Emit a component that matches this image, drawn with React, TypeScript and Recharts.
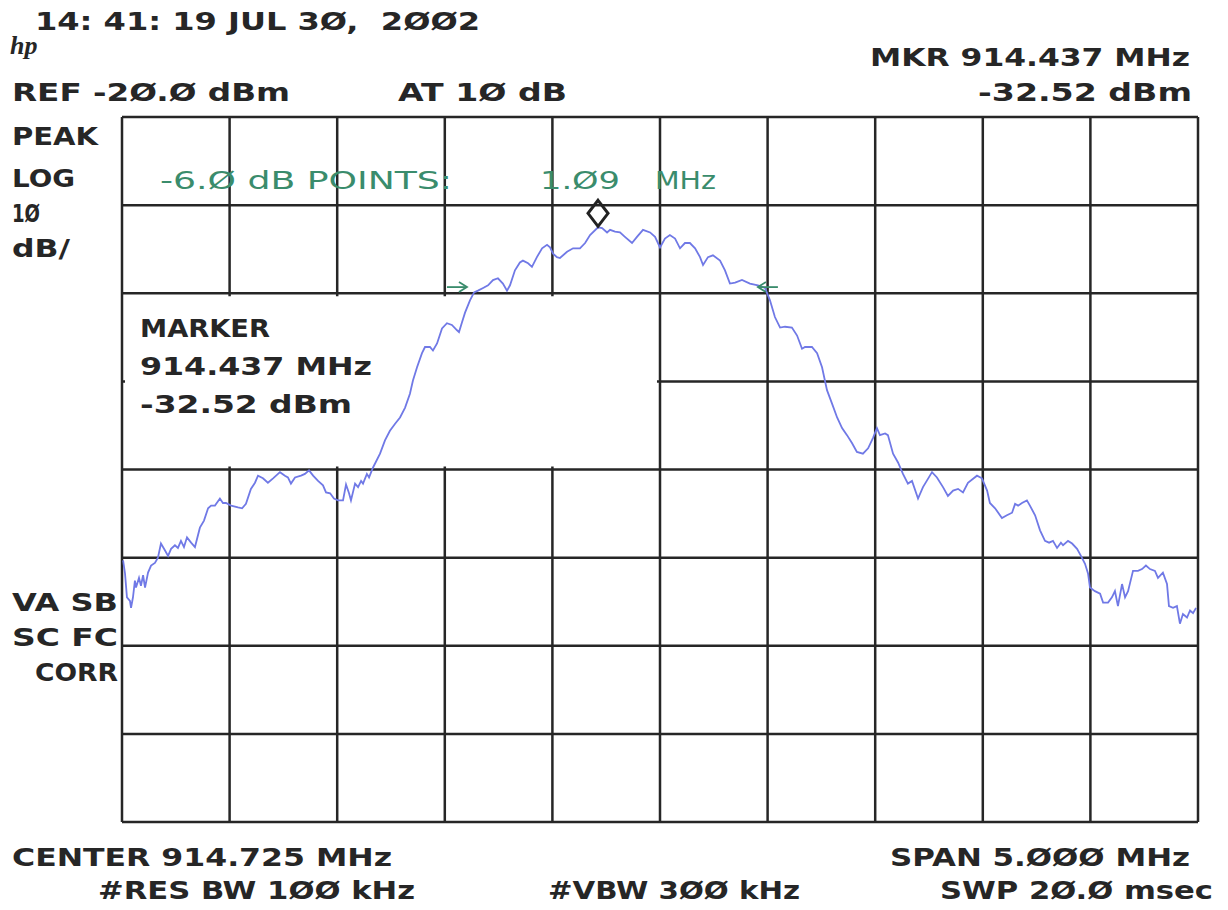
import React from 'react';
import { LineChart, Line, XAxis, YAxis, CartesianGrid, ReferenceArea, ReferenceDot } from 'recharts';

// sweep: 912.225 .. 917.225 MHz (center 914.725, span 5 MHz)
const freqTicks = [912.225, 912.725, 913.225, 913.725, 914.225, 914.725, 915.225, 915.725, 916.225, 916.725, 917.225];
// REF -20 dBm, 10 dB/div, 8 div
const levelTicks = [-100, -90, -80, -70, -60, -50, -40, -30, -20];

const traceFreq = [
  912.230, 912.239, 912.248, 912.262, 912.267, 912.276, 912.285, 912.290, 912.304, 912.313,
  912.323, 912.332, 912.346, 912.360, 912.378, 912.392, 912.406, 912.425, 912.439, 912.453,
  912.471, 912.485, 912.499, 912.513, 912.527, 912.546, 912.564, 912.587, 912.606, 912.625,
  912.639, 912.657, 912.680, 912.694, 912.708, 912.732, 912.764, 912.783, 912.801, 912.824,
  912.843, 912.857, 912.880, 912.903, 912.927, 912.959, 912.982, 912.996, 913.010, 913.029,
  913.057, 913.075, 913.094, 913.113, 913.136, 913.159, 913.173, 913.192, 913.210, 913.229,
  913.252, 913.266, 913.280, 913.289, 913.308, 913.322, 913.336, 913.345, 913.363, 913.373,
  913.391, 913.424, 913.447, 913.470, 913.494, 913.517, 913.540, 913.563, 913.577, 913.596,
  913.619, 913.633, 913.656, 913.670, 913.689, 913.712, 913.735, 913.758, 913.782, 913.791,
  913.805, 913.819, 913.842, 913.861, 913.879, 913.903, 913.926, 913.949, 913.972, 913.995,
  914.014, 914.028, 914.051, 914.074, 914.088, 914.112, 914.130, 914.153, 914.177, 914.200,
  914.214, 914.228, 914.246, 914.260, 914.293, 914.321, 914.353, 914.377, 914.400, 914.437,
  914.456, 914.479, 914.493, 914.516, 914.539, 914.562, 914.595, 914.618, 914.646, 914.679,
  914.702, 914.725, 914.748, 914.771, 914.795, 914.818, 914.841, 914.864, 914.888, 914.911,
  914.925, 914.948, 914.971, 915.004, 915.027, 915.050, 915.074, 915.106, 915.143, 915.180,
  915.213, 915.236, 915.259, 915.283, 915.306, 915.338, 915.362, 915.385, 915.399, 915.431,
  915.455, 915.478, 915.501, 915.524, 915.548, 915.571, 915.594, 915.617, 915.640, 915.668,
  915.692, 915.715, 915.733, 915.747, 915.771, 915.784, 915.808, 915.831, 915.854, 915.877,
  915.896, 915.924, 915.947, 915.989, 916.012, 916.040, 916.063, 916.087, 916.110, 916.133,
  916.156, 916.198, 916.221, 916.245, 916.258, 916.282, 916.314, 916.337, 916.361, 916.375,
  916.389, 916.407, 916.430, 916.444, 916.468, 916.491, 916.514, 916.533, 916.551, 916.570,
  916.588, 916.598, 916.621, 916.640, 916.663, 916.681, 916.700, 916.714, 916.723, 916.746,
  916.770, 916.784, 916.807, 916.825, 916.839, 916.853, 916.872, 916.886, 916.900, 916.923,
  916.946, 916.965, 916.983, 917.002, 917.025, 917.039, 917.062, 917.081, 917.090, 917.109,
  917.127, 917.141, 917.155, 917.174, 917.188, 917.202, 917.216,
];

const traceLevel = [
  -70.3, -71.8, -74.5, -74.9, -75.7, -74.5, -72.6, -73.4, -72.3, -73.2,
  -72.0, -73.4, -71.7, -70.9, -70.6, -70.0, -68.4, -69.2, -69.8, -69.0,
  -68.6, -68.9, -68.1, -68.8, -67.7, -68.3, -68.8, -66.6, -65.8, -64.4,
  -64.1, -64.1, -63.3, -63.8, -63.8, -64.1, -64.3, -64.4, -63.9, -62.2,
  -61.5, -60.7, -61.0, -61.5, -61.0, -60.3, -60.7, -60.9, -61.6, -60.9,
  -60.7, -60.5, -60.1, -60.7, -61.3, -61.8, -62.6, -62.7, -63.3, -63.5,
  -63.5, -61.7, -62.7, -63.5, -61.6, -62.0, -61.3, -61.6, -60.5, -60.9,
  -59.8, -58.2, -56.7, -55.6, -54.8, -54.1, -53.0, -51.4, -49.9, -48.4,
  -46.8, -46.1, -46.1, -46.5, -45.7, -44.0, -43.4, -43.6, -44.2, -44.4,
  -43.3, -42.2, -40.8, -39.9, -39.7, -39.4, -39.1, -38.5, -38.3, -38.9,
  -39.7, -39.1, -37.4, -36.5, -36.3, -36.6, -37.0, -35.9, -34.9, -34.5,
  -34.8, -35.5, -35.9, -36.0, -35.3, -34.9, -34.9, -34.3, -33.4, -32.52,
  -32.6, -33.1, -32.8, -33.0, -33.1, -33.6, -34.3, -33.6, -32.8, -33.1,
  -33.6, -34.8, -33.8, -33.4, -33.8, -34.9, -34.3, -34.3, -34.9, -35.9,
  -36.8, -35.9, -35.7, -36.3, -37.4, -38.9, -38.8, -38.5, -38.9, -39.1,
  -39.4, -40.8, -42.7, -43.9, -43.8, -43.9, -44.8, -46.3, -46.1, -46.1,
  -46.8, -48.4, -51.0, -52.5, -54.1, -55.3, -56.1, -57.0, -58.0, -58.2,
  -57.6, -56.4, -55.3, -56.1, -55.9, -56.1, -58.2, -59.2, -60.5, -61.6,
  -61.3, -63.3, -62.0, -60.3, -60.9, -62.0, -63.0, -62.4, -62.2, -62.6,
  -61.5, -60.7, -61.0, -62.4, -63.8, -64.4, -65.5, -65.2, -64.9, -63.9,
  -64.1, -63.8, -63.5, -64.1, -65.2, -66.9, -68.1, -68.3, -68.1, -68.9,
  -68.3, -68.6, -68.1, -68.4, -69.0, -69.8, -70.7, -71.8, -73.4, -73.8,
  -74.1, -75.1, -75.1, -74.5, -73.8, -75.5, -73.0, -74.5, -73.8, -71.5,
  -71.5, -71.3, -70.9, -71.3, -71.5, -72.3, -71.7, -73.0, -75.5, -75.7,
  -75.5, -77.5, -76.4, -76.8, -76.0, -76.3, -75.7,
];

// marker and -6 dB points
const markerFreq = 914.437;
const markerLevel = -32.52;
const sixDbLeft = 913.828;
const sixDbRight = 915.18;
const sixDbLevel = -39.3;

const INK = '#262626';
const GREEN = '#3a8c6c';
const TRACE = '#7079e6';
const FONT = '"DejaVu Sans", sans-serif';

const data = traceFreq.map((f, i) => ({ freq: f, level: traceLevel[i] }));

const Diamond = (props: any) => {
  const { cx, cy } = props;
  const c = cy - 14;
  return (
    <polygon
      points={`${cx},${c - 13} ${cx + 10},${c} ${cx},${c + 13} ${cx - 10},${c}`}
      fill="none"
      stroke="#222"
      strokeWidth={3}
    />
  );
};

const ArrowRight = (props: any) => {
  const { cx, cy } = props;
  return (
    <g stroke={GREEN} strokeWidth={1.8} fill="none">
      <line x1={cx - 20} y1={cy} x2={cx} y2={cy} />
      <polyline points={`${cx - 8},${cy - 5} ${cx},${cy} ${cx - 8},${cy + 5}`} />
    </g>
  );
};

const ArrowLeft = (props: any) => {
  const { cx, cy } = props;
  return (
    <g stroke={GREEN} strokeWidth={1.8} fill="none">
      <line x1={cx} y1={cy} x2={cx + 20} y2={cy} />
      <polyline points={`${cx + 8},${cy - 5} ${cx},${cy} ${cx + 8},${cy + 5}`} />
    </g>
  );
};

function T({ x, y, w, children, color = INK, weight = 'bold', size = 24 }: any) {
  return (
    <text
      x={x}
      y={y}
      textLength={w}
      lengthAdjust="spacingAndGlyphs"
      fill={color}
      fontFamily={FONT}
      fontWeight={weight}
      fontSize={size}
    >
      {children}
    </text>
  );
}

export default function App() {
  return (
    <div style={{ position: 'absolute', left: 0, top: 0, width: 1228, height: 910, background: '#fff' }}>
      <LineChart width={1228} height={910} data={data} margin={{ top: 117, right: 30, bottom: 88, left: 122 }}>
        <XAxis type="number" dataKey="freq" domain={[912.225, 917.225]} ticks={freqTicks} allowDataOverflow hide />
        <YAxis type="number" domain={[-100, -20]} ticks={levelTicks} allowDataOverflow hide />
        <CartesianGrid stroke={INK} strokeWidth={2.5} />
        <ReferenceArea x1={912.239} x2={914.711} y1={-59.66} y2={-40.34} fill="#fff" fillOpacity={1} stroke="none" />
        <Line
          type="linear"
          dataKey="level"
          stroke={TRACE}
          strokeWidth={1.8}
          dot={false}
          isAnimationActive={false}
        />
        <ReferenceDot x={markerFreq} y={markerLevel} shape={Diamond} />
        <ReferenceDot x={sixDbLeft} y={sixDbLevel} shape={ArrowRight} />
        <ReferenceDot x={sixDbRight} y={sixDbLevel} shape={ArrowLeft} />
      </LineChart>

      <svg width={1228} height={910} style={{ position: 'absolute', left: 0, top: 0, pointerEvents: 'none' }}>
        <T x={35} y={30} w={445}>{'14: 41: 19 JUL 3Ø,\u00A0\u00A02ØØ2'}</T>
        <text x={10} y={54} fontFamily="serif" fontStyle="italic" fontWeight="bold" fontSize={26} fill={INK}>hp</text>
        <T x={12} y={101} w={278}>REF -2Ø.Ø dBm</T>
        <T x={398} y={101} w={169}>AT 1Ø dB</T>
        <T x={870} y={66} w={320}>MKR 914.437 MHz</T>
        <T x={978} y={101} w={214}>-32.52 dBm</T>

        <T x={12} y={145} w={86}>PEAK</T>
        <T x={12} y={187} w={63}>LOG</T>
        <T x={12} y={222} w={28}>1Ø</T>
        <T x={12} y={257} w={58}>dB/</T>
        <T x={12} y={611} w={106}>VA SB</T>
        <T x={12} y={646} w={106}>SC FC</T>
        <T x={35} y={681} w={83}>CORR</T>

        <T x={160} y={189} w={292} color={GREEN} weight="normal">-6.Ø dB POINTS:</T>
        <T x={540} y={189} w={80} color={GREEN} weight="normal">1.Ø9</T>
        <T x={655} y={189} w={61} color={GREEN} weight="normal">MHz</T>

        <T x={140} y={337} w={130}>MARKER</T>
        <T x={140} y={375} w={232}>914.437 MHz</T>
        <T x={140} y={413} w={212}>-32.52 dBm</T>

        <T x={12} y={866} w={380}>CENTER 914.725 MHz</T>
        <T x={890} y={866} w={300}>SPAN 5.ØØØ MHz</T>
        <T x={98} y={899} w={317}>#RES BW 1ØØ kHz</T>
        <T x={548} y={899} w={252}>#VBW 3ØØ kHz</T>
        <T x={940} y={899} w={273}>SWP 2Ø.Ø msec</T>
      </svg>
    </div>
  );
}
